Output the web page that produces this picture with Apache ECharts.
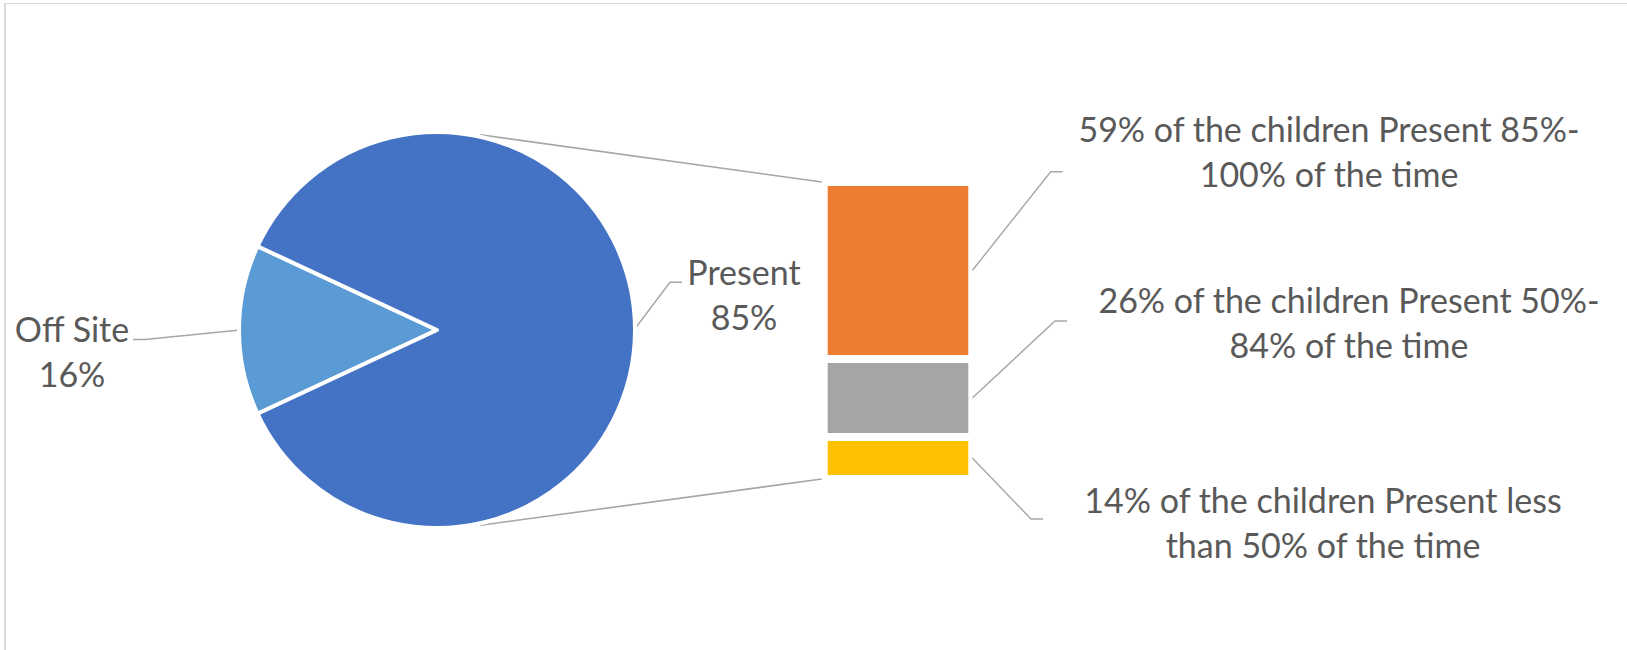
<!DOCTYPE html>
<html><head><meta charset="utf-8">
<script src="https://cdn.jsdelivr.net/npm/echarts@6/dist/echarts.min.js"></script>
<style>html,body{margin:0;padding:0;background:#fff}#c{width:1627px;height:650px}</style>
</head><body><div id="c"></div>
<script>
// ---- data ----
const pieNames = ['Off Site', 'Present'];
const pieValues = [13.9, 86.1];
const pieLabelPercents = ['16%', '85%'];
const barCategory = ['Present'];
const barLabels = [
  '59% of the children Present 85%-\n100% of the time',
  '26% of the children Present 50%-\n84% of the time',
  '14% of the children Present less\nthan 50% of the time'
];
const barValues = [59, 26, 14];

// ---- styles / layout ----
const pieColors = ['#5B9BD5', '#4472C4'];
const barColors = ['#ED7D31', '#A5A5A5', '#FFC000'];
const FONT = 'Lato';
const TEXT = '#595959';
const LINE = '#A6A6A6';
const PIE_C = [437, 330], PIE_R = 198, PIE_VIS_R = 196;
const GRID = {left: 823.7, top: 182, width: 148.6, height: 297};
const pieLabelPos = [[72, 351], [744, 294]];
const pieLeaderElbow = [[145, 339.5], [670, 282.3]];
const pieLeaderEnd = [[133, 339.5], [682, 282.3]];
const barLabelPos = [[1329, 151], [1349, 322], [1323, 522]];
const barLeaderElbow = [[1050.7, 171.7], [1055, 321], [1031, 519]];
const barLeaderEndDx = 12;
const CONNECT_ANGLE = 77.5;

const chart = echarts.init(document.getElementById('c'), null, {renderer: 'svg', width: 1627, height: 650});

const pieTotal = pieValues.reduce((a, b) => a + b, 0);
const angles = pieValues.map(v => 360 * v / pieTotal);
const startAngle = 180 + angles[0] / 2;
const labelStyle = {fontFamily: FONT, fontSize: 34, lineHeight: 45, color: TEXT};

const barTotal = barValues.reduce((a, b) => a + b, 0);
const barSeries = [];
for (let i = barValues.length - 1; i >= 0; i--) {
  const idx = i;
  barSeries.push({
    type: 'bar', name: barLabels[idx], stack: 'sec', data: [barValues[idx]],
    barCategoryGap: '0%', silent: true,
    itemStyle: {color: barColors[idx], borderColor: '#fff', borderWidth: 4},
    label: Object.assign({show: true, position: 'right', formatter: barLabels[idx], align: 'center'}, labelStyle),
    labelLayout: {x: barLabelPos[idx][0], y: barLabelPos[idx][1], align: 'center', verticalAlign: 'middle'}
  });
}

const option = {
  animation: false,
  backgroundColor: '#fff',
  grid: {left: GRID.left, top: GRID.top, width: GRID.width, height: GRID.height, containLabel: false},
  xAxis: {type: 'category', data: barCategory, show: false},
  yAxis: {type: 'value', min: 0, max: barTotal, show: false},
  series: [{
    type: 'pie', center: PIE_C, radius: PIE_R, startAngle: startAngle, clockwise: true, silent: true,
    data: pieNames.map((n, i) => ({name: n, value: pieValues[i], itemStyle: {color: pieColors[i]}})),
    itemStyle: {borderColor: '#fff', borderWidth: 4},
    label: Object.assign({show: true, position: 'outside', align: 'center',
      formatter: p => p.name + '\n' + pieLabelPercents[p.dataIndex]}, labelStyle),
    labelLine: {show: false},
    labelLayout: p => ({x: pieLabelPos[p.dataIndex][0], y: pieLabelPos[p.dataIndex][1], align: 'center', verticalAlign: 'middle'})
  }].concat(barSeries)
};
chart.setOption(option);

// ---- leader / connector lines computed from chart geometry ----
function piePoint(angDeg, r) {
  const a = angDeg * Math.PI / 180;
  return [PIE_C[0] + r * Math.cos(a), PIE_C[1] - r * Math.sin(a)];
}
const graphics = [];
const lineStyle = {stroke: LINE, lineWidth: 1.4, fill: null};
// pie leaders
let acc = startAngle;
pieValues.forEach((v, i) => {
  const mid = acc - angles[i] / 2;
  acc -= angles[i];
  const p0 = piePoint(mid, PIE_VIS_R + 1);
  graphics.push({type: 'polyline', silent: true, shape: {points: [p0, pieLeaderElbow[i], pieLeaderEnd[i]]}, style: lineStyle});
});
// bar leaders
const cx = chart.convertToPixel({gridIndex: 0}, [0, 0])[0];
const barRight = cx + GRID.width / 2;
const barLeft = cx - GRID.width / 2;
barValues.forEach((v, i) => {
  let base = 0;
  for (let j = i + 1; j < barValues.length; j++) base += barValues[j];
  const midY = chart.convertToPixel({gridIndex: 0}, [0, base + v / 2])[1];
  const el = barLeaderElbow[i];
  graphics.push({type: 'polyline', silent: true, shape: {points: [[barRight, midY], el, [el[0] + barLeaderEndDx, el[1]]]}, style: lineStyle});
});
// pie-to-bar connectors
const topY = chart.convertToPixel({gridIndex: 0}, [0, barTotal])[1];
const botY = chart.convertToPixel({gridIndex: 0}, [0, 0])[1];
graphics.push({type: 'line', silent: true, shape: {x1: piePoint(CONNECT_ANGLE, PIE_VIS_R + 4)[0], y1: piePoint(CONNECT_ANGLE, PIE_VIS_R + 4)[1], x2: barLeft - 2, y2: topY}, style: {stroke: LINE, lineWidth: 1.6}});
graphics.push({type: 'line', silent: true, shape: {x1: piePoint(-CONNECT_ANGLE, PIE_VIS_R + 4)[0], y1: piePoint(-CONNECT_ANGLE, PIE_VIS_R + 4)[1], x2: barLeft - 2, y2: botY}, style: {stroke: LINE, lineWidth: 1.6}});
// outer frame (partially visible)
graphics.push({type: 'line', silent: true, shape: {x1: 4, y1: 3.5, x2: 1627, y2: 3.5}, style: {stroke: '#D9D9D9', lineWidth: 1}});
graphics.push({type: 'line', silent: true, shape: {x1: 5, y1: 3, x2: 5, y2: 650}, style: {stroke: '#D9D9D9', lineWidth: 2}});
chart.setOption({graphic: graphics});
</script></body></html>
